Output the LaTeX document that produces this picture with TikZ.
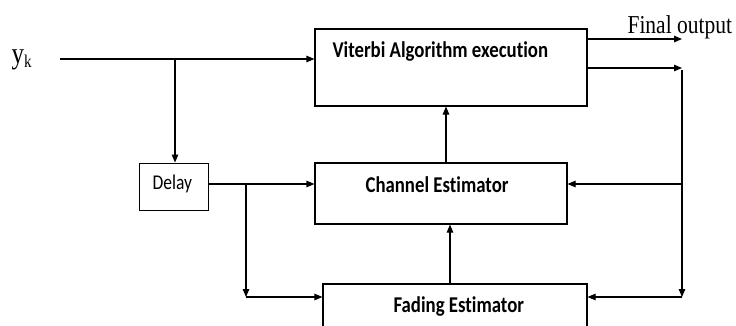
\documentclass[tikz,border=0pt]{standalone}
\usepackage{fontspec}
\setmainfont{Liberation Serif}
\newfontfamily\boxfont[Ligatures={NoCommon}]{Carlito}
\usetikzlibrary{arrows.meta,calc}
% text in this figure is set slightly taller than wide
\newcommand{\tall}[1]{\scalebox{1}[1.2]{#1}}
\begin{document}
\begin{tikzpicture}[x=1pt,y=-1pt,
  line width=1.1pt,
  blk/.style={draw,rectangle,inner sep=0pt},
  lbl/.style={font=\boxfont\bfseries\fontsize{18.8}{22}\selectfont,inner sep=0pt,anchor=base west},
  serif/.style={font=\fontsize{21.5}{25}\selectfont,inner sep=0pt,anchor=base west},
  arr/.style={-{Triangle[length=8pt,width=6.5pt]}}]
\useasboundingbox (0,0) rectangle (736,325);
\clip (0,0) rectangle (736,325);

% blocks
\node[blk,minimum width=272pt,minimum height=77pt] (vit) at (451,67.5) {};
\node[blk,minimum width=252pt,minimum height=61pt] (chan) at (441,193.5) {};
\node[blk,minimum width=264pt,minimum height=61pt] (fad) at (455,314.5) {};
\node[blk,line width=0.9pt,minimum width=69pt,minimum height=47pt] (delay) at (173.5,186.5) {};

% block captions
\node[lbl] (vitlbl) at (332,57) {\tall{Viterbi Algorithm execution}};
\node[lbl] (chanlbl) at (365,192) {\tall{Channel Estimator}};
\node[lbl] (fadlbl) at (393,312) {\tall{Fading Estimator}};
\node[font=\boxfont\fontsize{17.5}{20}\selectfont,inner sep=0pt,anchor=base west] (delaylbl) at (152,189) {\tall{Delay}};

% input
\node[serif,font=\fontsize{25}{28}\selectfont] (yk) at (11,63) {\tall{y\textsubscript{\fontsize{15}{16}\selectfont k}}};
\coordinate (in) at (60,59);
\coordinate (b1) at (175,59);
\draw[arr] (in) -- (in -| vit.west);
\draw[arr] (b1) -- (b1 |- delay.north);

% delay outputs
\coordinate (d0) at (208,184);
\coordinate (b2) at (246,184);
\coordinate (c1) at (246,297);
\draw[arr] (d0) -- (d0 -| chan.west);
\draw[arr] (b2) -- (c1);
\draw[arr] (c1) -- (c1 -| fad.west);

% estimator chain upwards
\coordinate (u1) at (446,0);
\coordinate (u2) at (450,0);
\draw[arr] (u1 |- chan.north) -- (u1 |- vit.south);
\draw[arr] (u2 |- fad.north) -- (u2 |- chan.south);

% outputs and feedback
\coordinate (o1) at (682,39);
\coordinate (o2) at (682,68);
\coordinate (v0) at (682,70);
\coordinate (v1) at (682,184);
\coordinate (v2) at (682,297);
\draw[arr] (o1 -| vit.east) -- (o1);
\node[serif] (out) at (627,33) {\tall{Final output}};
\draw[arr] (o2 -| vit.east) -- (o2);
\draw[arr] (v0) -- (v2);
\draw[arr] (v1) -- (v1 -| chan.east);
\draw[arr] (v2) -- (v2 -| fad.east);
\end{tikzpicture}
\end{document}
